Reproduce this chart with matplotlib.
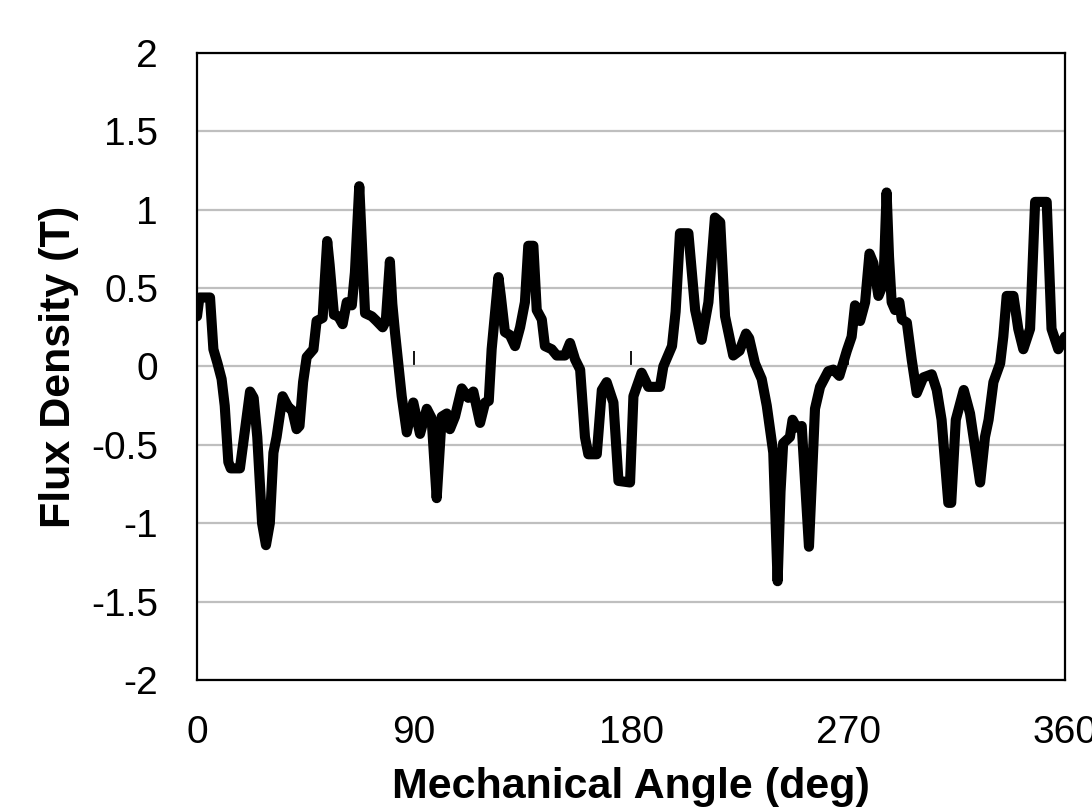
import numpy as np
import matplotlib
matplotlib.use("Agg")
import matplotlib.pyplot as plt

plt.rcParams['font.family'] = ['Liberation Sans', 'DejaVu Sans']

# Values (mechanical angle in deg, flux density in T)
angle = [0, 1, 5.4, 6.8, 8.5, 10.2, 11.5, 13, 14, 17.8, 19.5, 22, 23.5, 25, 27, 28.6, 30.2,
         31.7, 33, 35.5, 36.5, 37.9, 39.5, 41.3, 42.5, 44, 45.5, 48.3, 49.6, 52.1, 53, 54,
         55, 56.8, 58.6, 60.4, 62.1, 64.2, 65.5, 67.3, 68.5, 69.7, 72.5, 74.5, 77, 78.3, 80,
         81, 82.1, 84.9, 87, 89.7, 92.5, 95.3, 97.3, 99.4, 101.5, 103.6, 104.9, 107, 109.8,
         112.5, 114.6, 117.4, 119.5, 121, 122.2, 125, 126, 127.7, 129.8, 131.9, 134, 136,
         137.4, 139.5, 140.9, 143, 144.3, 147.1, 149.2, 152.6, 154.7, 156.8, 158.9, 160.9,
         162.3, 165.8, 167.9, 169.9, 172.7, 174.8, 179.6, 181, 184.4, 187.2, 192, 193.4,
         197, 198.5, 200.3, 203.8, 206.6, 209.3, 212.1, 214.8, 217, 219, 222.4, 225, 227.7,
         229, 231.4, 234.2, 236.3, 239, 240.8, 242, 243.1, 245.9, 247, 248.7, 250.8, 253.8,
         256.3, 258.4, 261.8, 263.9, 266.4, 269.5, 271.5, 272.9, 275, 277.1, 278.9, 280.5,
         282.6, 284.7, 286, 287, 288.1, 289.5, 291.3, 292.3, 294.4, 296.4, 298.5, 301.2,
         304.7, 306.8, 308.8, 311.6, 312.8, 314.7, 318, 320.6, 324.8, 326.8, 328.3, 330.3,
         333.1, 334.4, 335.8, 338.6, 340.6, 342.7, 345.5, 347.6, 352.4, 354.4, 357.2, 360]
flux = [0.32, 0.44, 0.44, 0.11, 0.02, -0.08, -0.25, -0.61, -0.65, -0.65, -0.45, -0.16, -0.2,
        -0.45, -1.0, -1.14, -1.0, -0.55, -0.45, -0.19, -0.22, -0.26, -0.28, -0.40, -0.38,
        -0.1, 0.06, 0.11, 0.29, 0.31, 0.55, 0.80, 0.65, 0.33, 0.32, 0.27, 0.41, 0.39, 0.6,
        1.15, 0.75, 0.34, 0.32, 0.29, 0.25, 0.29, 0.67, 0.4, 0.22, -0.19, -0.42, -0.23,
        -0.43, -0.27, -0.33, -0.84, -0.32, -0.30, -0.40, -0.32, -0.14, -0.20, -0.16, -0.36,
        -0.23, -0.22, 0.11, 0.57, 0.45, 0.22, 0.20, 0.13, 0.25, 0.41, 0.77, 0.77, 0.36,
        0.30, 0.13, 0.11, 0.07, 0.07, 0.15, 0.045, -0.02, -0.45, -0.56, -0.56, -0.15,
        -0.10, -0.23, -0.73, -0.74, -0.19, -0.04, -0.13, -0.13, 0.0, 0.13, 0.35, 0.85,
        0.85, 0.36, 0.17, 0.41, 0.95, 0.92, 0.32, 0.07, 0.1, 0.21, 0.18, 0.02, -0.08,
        -0.25, -0.55, -1.37, -0.8, -0.49, -0.45, -0.34, -0.39, -0.38, -1.15, -0.27, -0.13,
        -0.03, -0.02, -0.06, 0.1, 0.19, 0.39, 0.29, 0.41, 0.72, 0.66, 0.45, 0.53, 1.11,
        0.7, 0.41, 0.36, 0.41, 0.30, 0.28, 0.045, -0.17, -0.07, -0.05, -0.15, -0.34,
        -0.87, -0.87, -0.34, -0.15, -0.30, -0.74, -0.45, -0.34, -0.10, 0.02, 0.19, 0.45,
        0.45, 0.24, 0.11, 0.24, 1.05, 1.05, 0.24, 0.11, 0.19]

x_ticks = [0, 90, 180, 270, 360]
y_ticks = [-2, -1.5, -1, -0.5, 0, 0.5, 1, 1.5, 2]
y_labels = ['-2', '-1.5', '-1', '-0.5', '0', '0.5', '1', '1.5', '2']

fig = plt.figure(figsize=(10.92, 8.09), dpi=100)
ax = fig.add_axes([0.1804, 0.1595, 0.7949, 0.7750])

ax.plot(angle, flux, color='black', lw=7.3, solid_joinstyle='round',
        solid_capstyle='round', zorder=3)

ax.set_xlim(0, 360)
ax.set_ylim(-2, 2)
ax.set_xticks(x_ticks)
ax.set_yticks(y_ticks)
ax.set_yticklabels(y_labels)
ax.tick_params(axis='both', length=0, labelsize=28)
ax.tick_params(axis='x', pad=25)
ax.tick_params(axis='y', pad=28)

ax.grid(axis='y', color='#BFBFBF', lw=1.6, zorder=0)
ax.set_axisbelow(True)
for sp in ax.spines.values():
    sp.set_color('black')
    sp.set_linewidth(1.6)

# horizontal axis crossing at zero with small upward ticks (Excel style)
sec = ax.secondary_xaxis(0.5)
sec.set_xticks(x_ticks)
sec.tick_params(axis='x', direction='in', length=11, width=1.3, labelbottom=False,
                labeltop=False)
sec.spines['bottom'].set_linewidth(1.6)
sec.spines['top'].set_visible(False)
sec.xaxis.set_ticks_position('bottom')
sec.set_xticklabels([])

ax.set_xlabel('Mechanical Angle (deg)', fontsize=31, fontweight='bold', labelpad=12)
ax.set_ylabel('Flux Density (T)', fontsize=31, fontweight='bold', labelpad=9)

fig.savefig('out.png', dpi=100)
